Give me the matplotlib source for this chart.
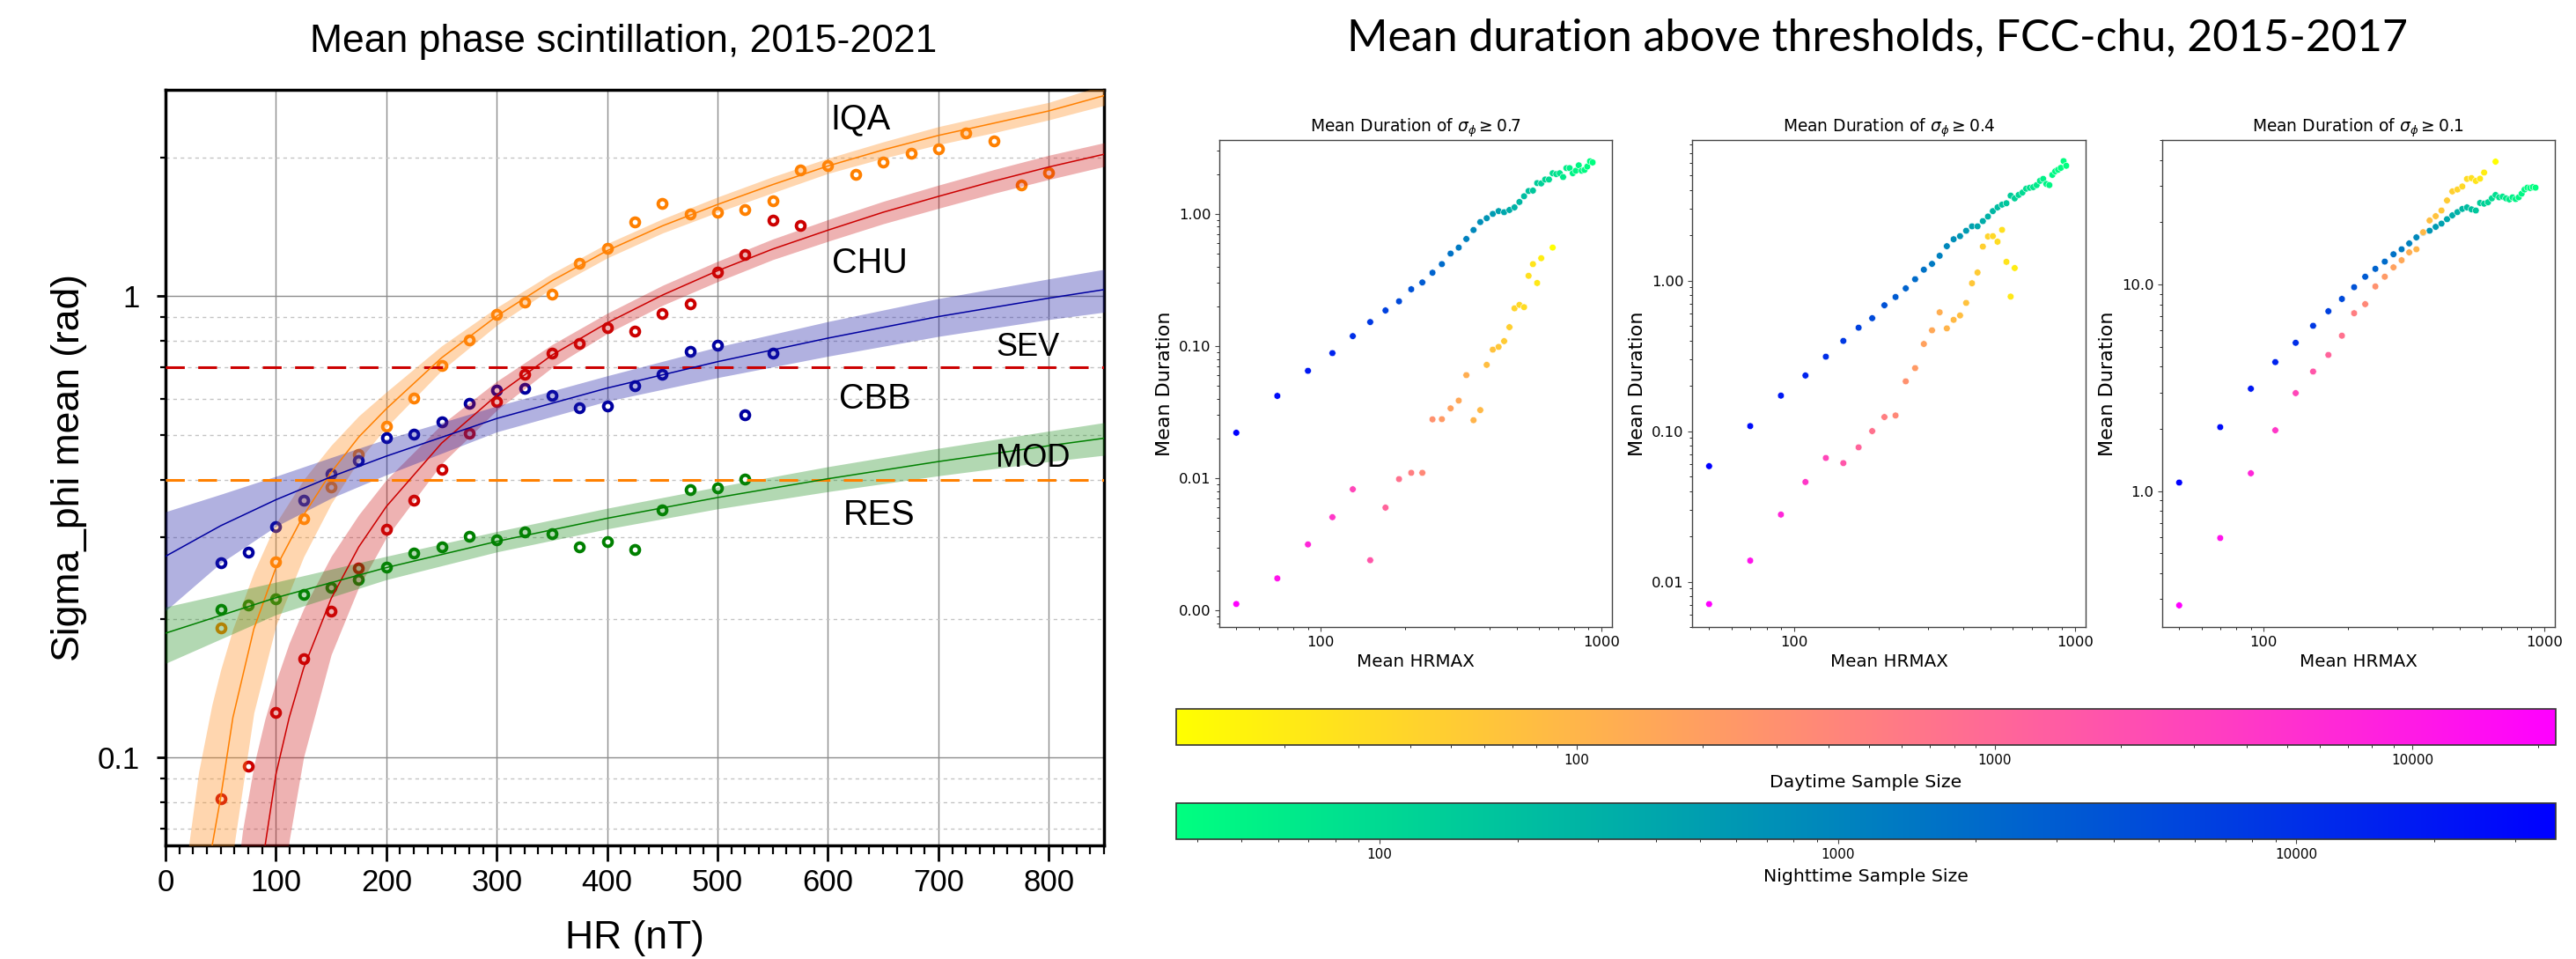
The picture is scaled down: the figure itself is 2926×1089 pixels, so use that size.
import numpy as np
import matplotlib
matplotlib.use('Agg')
import matplotlib.pyplot as plt
from matplotlib import font_manager
from matplotlib.colors import LogNorm
from matplotlib.cm import ScalarMappable
from matplotlib.ticker import (MultipleLocator, NullFormatter,
                               FormatStrFormatter, LogLocator)

nan = np.nan

# ============================================================
#  Left: mean phase scintillation vs HR (binned points + fits)
# ============================================================
hr = [50, 75, 100, 125, 150, 175, 200, 225, 250, 275, 300, 325, 350, 375,
      400, 425, 450, 475, 500, 525, 550, 575, 600, 625, 650, 675, 700, 725,
      750, 775, 800]

iqa_pts = [0.191, nan, 0.266, 0.330, 0.385, 0.453, 0.522, 0.602, 0.708, 0.805,
           0.911, 0.969, 1.01, 1.18, 1.27, 1.45, 1.585, 1.51, 1.52, 1.54,
           1.61, 1.88, 1.92, 1.84, 1.95, 2.04, 2.09, 2.26, 2.17, 1.74, 1.85]
chu_pts = [0.0814, 0.0956, 0.125, 0.164, 0.208, 0.257, 0.312, 0.361, 0.421,
           0.505, 0.590, 0.676, 0.751, 0.791, 0.853, 0.838, 0.915, 0.961,
           1.127, 1.23, 1.46, 1.42]
cbb_pts = [0.264, 0.279, 0.316, 0.361, 0.412, 0.440, 0.493, 0.503, 0.535,
           0.587, 0.627, 0.632, 0.610, 0.573, 0.578, 0.639, 0.676, 0.760,
           0.782, 0.554, 0.753]
res_pts = [0.209, 0.214, 0.221, 0.2256, 0.234, 0.243, 0.259, 0.277, 0.286,
           0.301, 0.296, 0.308, 0.306, 0.286, 0.294, 0.283, 0.344, 0.380,
           0.384, 0.402]

# fitted curves
iqa_fit_x = [42, 50, 61, 80, 100, 125, 150, 175, 200, 250, 300, 350, 400,
             450, 500, 550, 600, 650, 700, 750, 800, 850]
iqa_fit_y = [0.064, 0.082, 0.122, 0.190, 0.258, 0.335, 0.415, 0.495, 0.570,
             0.735, 0.905, 1.08, 1.255, 1.42, 1.58, 1.745, 1.915, 2.075,
             2.23, 2.37, 2.52, 2.72]
iqa_band_x = [20, 30, 42, 50, 61, 80, 100, 125, 150, 175, 200, 250, 300,
              350, 400, 450, 500, 550, 600, 650, 700, 750, 800, 850]
iqa_band_lo = [0.03, 0.03, 0.03, 0.03, 0.062, 0.125, 0.193, 0.272, 0.355,
               0.440, 0.520, 0.690, 0.865, 1.04, 1.21, 1.37, 1.52, 1.675,
               1.845, 1.99, 2.13, 2.26, 2.41, 2.59]
iqa_band_hi = [0.062, 0.093, 0.130, 0.155, 0.190, 0.252, 0.322, 0.400, 0.475,
               0.550, 0.620, 0.780, 0.945, 1.12, 1.30, 1.47, 1.64, 1.815,
               1.99, 2.16, 2.33, 2.48, 2.63, 2.87]

chu_fit_x = [90, 100, 112, 125, 150, 175, 200, 250, 300, 350, 400, 450, 500,
             550, 600, 650, 700, 750, 800, 850]
chu_fit_y = [0.064, 0.092, 0.122, 0.156, 0.221, 0.286, 0.350, 0.480, 0.610,
             0.745, 0.875, 1.005, 1.135, 1.265, 1.39, 1.52, 1.645, 1.775,
             1.905, 2.03]
chu_band_x = [60, 70, 80, 90, 100, 112, 125, 150, 175, 200, 250, 300, 350,
              400, 450, 500, 550, 600, 650, 700, 750, 800, 850]
chu_band_lo = [0.03, 0.03, 0.03, 0.03, 0.034, 0.066, 0.100, 0.167, 0.234,
               0.300, 0.433, 0.566, 0.700, 0.830, 0.955, 1.075, 1.20, 1.315,
               1.435, 1.55, 1.67, 1.79, 1.91]
chu_band_hi = [0.045, 0.070, 0.096, 0.121, 0.146, 0.177, 0.210, 0.273, 0.336,
               0.400, 0.527, 0.654, 0.785, 0.918, 1.055, 1.19, 1.33, 1.465,
               1.605, 1.74, 1.88, 2.02, 2.15]

cbb_fit_x = [0, 50, 100, 150, 200, 300, 400, 500, 600, 700, 800, 850]
cbb_fit_y = [0.273, 0.318, 0.362, 0.406, 0.450, 0.543, 0.632, 0.721, 0.811,
             0.903, 0.990, 1.033]
cbb_band_lo = [0.208, 0.264, 0.317, 0.365, 0.410, 0.508, 0.592, 0.666, 0.741,
               0.818, 0.890, 0.923]
cbb_band_hi = [0.341, 0.372, 0.407, 0.447, 0.490, 0.578, 0.672, 0.776, 0.881,
               0.988, 1.090, 1.143]

res_fit_x = [0, 100, 200, 300, 400, 500, 600, 700, 800, 850]
res_fit_y = [0.186, 0.222, 0.258, 0.294, 0.330, 0.366, 0.402, 0.438, 0.474,
             0.492]
res_band_lo = [0.160, 0.204, 0.243, 0.279, 0.313, 0.346, 0.377, 0.408, 0.438,
               0.452]
res_band_hi = [0.212, 0.240, 0.273, 0.309, 0.347, 0.386, 0.427, 0.468, 0.510,
               0.532]

thr_sev = 0.7
thr_mod = 0.4

# ============================================================
#  Right: mean duration above thresholds (3 panels)
# ============================================================
night_x = [50, 70, 90, 110, 130, 150, 170, 190, 210, 230, 250, 270, 290, 310,
           330, 350, 370, 390, 410, 430, 450, 470, 490, 510, 530, 550, 570,
           590, 610, 630, 650, 670, 690, 710, 730, 750, 770, 790, 810, 830,
           850, 870, 890, 910, 930]
night_n = [36800, 26000, 19000, 14000, 10500, 8000, 6200, 4900, 3900, 3100,
           2500, 2000, 1650, 1350, 1100, 920, 770, 650, 550, 470, 400, 340,
           295, 255, 220, 190, 165, 145, 128, 113, 100, 89, 80, 72, 65, 59,
           54, 50, 47, 45, 43, 41, 39, 37, 36]
day_x = [50, 70, 90, 110, 130, 150, 170, 190, 210, 230, 250, 270, 290, 310,
         330, 350, 370, 390, 410, 430, 450, 470, 490, 510, 530, 550, 570, 590,
         610, 630, 650, 670]
day_n = [22000, 12000, 7000, 4200, 2700, 1700, 1100, 750, 520, 380, 290, 225,
         180, 150, 125, 105, 90, 78, 68, 59, 52, 46, 40, 36, 32, 28, 25, 22,
         19, 16, 13, 11]

night_07 = [0.0221, 0.042, 0.065, 0.0885, 0.119, 0.152, 0.186, 0.218, 0.269,
            0.303, 0.359, 0.417, 0.501, 0.556, 0.646, 0.755, 0.867, 0.928,
            1.0, 1.05, 1.03, 1.07, 1.12, 1.23, 1.36, 1.49, 1.50, 1.71, 1.70,
            1.82, 1.82, 2.03, 2.0, 2.03, 1.90, 2.22, 2.22, 2.03, 2.12, 2.33,
            2.12, 2.15, 2.28, 2.50, 2.45]
day_07 = [0.00112, 0.00175, 0.00316, 0.00508, 0.00826, 0.0024, 0.0060,
          0.00986, 0.0110, 0.0110, 0.0279, 0.0280, 0.0338, 0.0387, 0.0603,
          0.0275, 0.0328, 0.0721, 0.094, 0.0986, 0.109, 0.139, 0.193, 0.205,
          0.197, 0.340, 0.417, 0.30, 0.462, nan, nan, 0.556]

night_04 = [0.0585, 0.108, 0.172, 0.234, 0.312, 0.397, 0.486, 0.562, 0.685,
            0.777, 0.887, 1.02, 1.18, 1.29, 1.46, 1.69, 1.88, 1.97, 2.14,
            2.29, 2.29, 2.48, 2.66, 2.89, 3.06, 3.19, 3.26, 3.66, 3.51, 3.70,
            3.84, 4.07, 4.13, 4.17, 4.30, 4.59, 4.73, 4.38, 4.30, 5.03, 5.31,
            5.44, 5.60, 6.21, 5.78]
day_04 = [0.0071, 0.0138, 0.0279, 0.0459, 0.0663, 0.0613, 0.078, 0.100,
          0.124, 0.127, 0.214, 0.262, 0.379, 0.467, 0.615, 0.481, 0.548,
          0.586, 0.710, 0.959, 1.13, 1.68, 1.96, 1.97, 1.81, 2.17, 1.33,
          0.782, 1.21, nan, nan, nan]

night_01 = [1.10, 2.04, 3.13, 4.21, 5.22, 6.31, 7.42, 8.51, 9.70, 10.9, 11.9,
            12.9, 14.0, 14.8, 15.8, 16.9, 17.8, 18.2, 19.0, 19.7, 20.7, 21.6,
            22.4, 23.2, 23.6, 23.1, 22.8, 24.8, 24.6, 25.0, 26.1, 27.1, 26.4,
            26.6, 26.1, 25.8, 26.4, 25.9, 26.4, 27.5, 28.8, 29.4, 29.3, 29.6,
            29.4]
day_01 = [0.280, 0.593, 1.22, 1.97, 2.98, 3.79, 4.56, 5.65, 7.26, 8.03, 9.78,
          10.9, 12.1, 13.1, 14.3, 14.8, 17.9, 20.4, 21.4, 22.8, 25.5, 28.2,
          28.8, 29.8, 32.4, 32.7, 31.7, 32.5, 34.8, nan, nan, 39.3]

panel_thr = ['0.7', '0.4', '0.1']
panel_ylim = [(0.00075, 3.62), (0.005, 8.57), (0.22, 50)]
panel_yticks = [[0.001, 0.01, 0.1, 1], [0.01, 0.1, 1], [1, 10]]
panel_yfmt = ['%.2f', '%.2f', '%.1f']

day_range = (11, 22000)
night_range = (36, 36800)

# ============================================================
#  Fonts
# ============================================================
_names = {f.name for f in font_manager.fontManager.ttflist}
if 'Liberation Sans Narrow' in _names:
    NARROW, NS = 'Liberation Sans Narrow', 1.0
    plt.rcParams['mathtext.fontset'] = 'custom'
    plt.rcParams['mathtext.rm'] = NARROW
    plt.rcParams['mathtext.it'] = NARROW + ':italic'
else:
    NARROW, NS = 'DejaVu Sans', 0.84
ARIAL = 'Liberation Sans'
plt.rcParams['font.family'] = [NARROW, 'DejaVu Sans']

W, H = 2926, 1089
fig = plt.figure(figsize=(W / 100, H / 100), dpi=100)


def rect(x0, y0, x1, y1):
    return [x0 / W, 1 - y1 / H, (x1 - x0) / W, (y1 - y0) / H]


# ------------------------------------------------------------
#  Left panel
# ------------------------------------------------------------
ax = fig.add_axes(rect(188, 102, 1254, 960))
ax.set_yscale('log')
ax.set_xlim(0, 850)
ax.set_ylim(0.0645, 2.80)
ax.set_axisbelow(True)

ax.set_xticks(range(0, 801, 100))
ax.xaxis.set_minor_locator(MultipleLocator(12.5))
ax.set_yticks([0.1, 1], ['0.1', '1'])
ax.set_yticks([0.07, 0.08, 0.09, 0.2, 0.3, 0.4, 0.5, 0.6, 0.7, 0.8, 0.9, 2.0],
              minor=True)
ax.yaxis.set_minor_formatter(NullFormatter())

ax.grid(which='major', color='#8c8c8c', lw=1.0)
ax.grid(which='minor', axis='y', color='#c4c4c4', lw=1.0, ls=(0, (3, 3)))

ax.tick_params(axis='x', which='major', direction='out', length=13, width=2,
               labelsize=25, pad=6, labelfontfamily=ARIAL)
ax.tick_params(axis='x', which='minor', direction='out', length=7, width=1.6)
ax.tick_params(axis='y', which='major', direction='out', length=7, width=2,
               labelsize=25, pad=14, labelfontfamily=ARIAL)
ax.tick_params(axis='y', which='minor', direction='out', length=4, width=1.6)
for s in ax.spines.values():
    s.set_linewidth(2.5)

stations = [
    (hr[:31], iqa_pts, iqa_fit_x, iqa_fit_y, iqa_band_x, iqa_band_lo,
     iqa_band_hi, '#ff8000', '#ff8c1a', 0.35),
    (hr[:22], chu_pts, chu_fit_x, chu_fit_y, chu_band_x, chu_band_lo,
     chu_band_hi, '#cc0000', '#cc1010', 0.32),
    (hr[:21], cbb_pts, cbb_fit_x, cbb_fit_y, cbb_fit_x, cbb_band_lo,
     cbb_band_hi, '#0000a0', '#2020a8', 0.35),
    (hr[:20], res_pts, res_fit_x, res_fit_y, res_fit_x, res_band_lo,
     res_band_hi, '#008000', '#118811', 0.32),
]
for px, py, fx, fy, bx, blo, bhi, c, bc, a in stations:
    ax.plot(px, py, 'o', ms=7, mfc='white', mec=c, mew=2.8, zorder=3)
    ax.fill_between(bx, blo, bhi, color=bc, alpha=a, lw=0, zorder=4)
    ax.plot(fx, fy, color=c, lw=1.1, zorder=5)

ax.axhline(thr_sev, color='#cc0000', lw=2.2, dashes=(7, 5), zorder=4.5)
ax.axhline(thr_mod, color='#ff8000', lw=2.2, dashes=(7, 5), zorder=4.5)

lab_kw = dict(family=ARIAL, va='center', ha='left', zorder=6)
ax.text(602, 2.42, 'IQA', fontsize=28.5, **lab_kw)
ax.text(604, 1.18, 'CHU', fontsize=28.5, **lab_kw)
ax.text(610, 0.60, 'CBB', fontsize=28.5, **lab_kw)
ax.text(614, 0.335, 'RES', fontsize=28.5, **lab_kw)
ax.text(752, 0.773, 'SEV', fontsize=26, **lab_kw)
ax.text(752, 0.445, 'MOD', fontsize=26, **lab_kw)

fig.text(708 / W, 1 - 48 / H, 'Mean phase scintillation, 2015-2021',
         family=ARIAL, fontsize=32, ha='center', va='center')
fig.text(721 / W, 1 - 1066 / H, 'HR (nT)', family=ARIAL, fontsize=32,
         ha='center', va='center')
fig.text(79 / W, 1 - 531 / H, 'Sigma_phi mean (rad)', family=ARIAL,
         fontsize=32, rotation=90, ha='center', va='center')

# ------------------------------------------------------------
#  Right panels
# ------------------------------------------------------------
fig.text(2133 / W, 1 - 43 / H,
         'Mean duration above thresholds, FCC-chu, 2015-2017',
         family=['Lato', 'DejaVu Sans'], fontsize=36, ha='center',
         va='center')

day_norm = LogNorm(*day_range)
night_norm = LogNorm(*night_range)
day_cmap = plt.get_cmap('spring_r')
night_cmap = plt.get_cmap('winter_r')

panel_rects = [rect(1385, 159, 1831, 712), rect(1922, 159, 2369, 712),
               rect(2456, 159, 2902, 712)]
night_sets = [night_07, night_04, night_01]
day_sets = [day_07, day_04, day_01]

for i in range(3):
    pa = fig.add_axes(panel_rects[i])
    pa.set_xscale('log')
    pa.set_yscale('log')
    pa.scatter(night_x, night_sets[i], c=night_n, cmap=night_cmap,
               norm=night_norm, s=30, edgecolors='white', linewidths=0.4,
               zorder=3)
    pa.scatter(day_x, day_sets[i], c=day_n, cmap=day_cmap, norm=day_norm,
               s=30, edgecolors='white', linewidths=0.4, zorder=3)
    pa.set_xlim(43.5, 1090)
    pa.set_ylim(*panel_ylim[i])
    pa.set_xticks([100, 1000], ['100', '1000'])
    pa.xaxis.set_minor_locator(LogLocator(base=10, subs=np.arange(2, 10)))
    pa.xaxis.set_minor_formatter(NullFormatter())
    pa.set_yticks(panel_yticks[i])
    pa.yaxis.set_major_formatter(FormatStrFormatter(panel_yfmt[i]))
    pa.yaxis.set_minor_locator(LogLocator(base=10, subs=np.arange(2, 10)))
    pa.yaxis.set_minor_formatter(NullFormatter())
    pa.tick_params(labelsize=14 * NS, color='#444444')
    for s in pa.spines.values():
        s.set_linewidth(1.0)
        s.set_color('#444444')
    pa.set_title(r'Mean Duration of $\sigma_\phi \geq %s$' % panel_thr[i],
                 fontsize=16 * NS, pad=7)
    pa.set_xlabel('Mean HRMAX', fontsize=17 * NS)
    pa.set_ylabel('Mean Duration', fontsize=16, family='DejaVu Sans')

# colorbars
for (y0, y1), norm, cmap, label in [
        ((805, 846), day_norm, day_cmap, 'Daytime Sample Size'),
        ((912, 953), night_norm, night_cmap, 'Nighttime Sample Size')]:
    cax = fig.add_axes(rect(1336, y0, 2903, y1))
    cb = fig.colorbar(ScalarMappable(norm=norm, cmap=cmap), cax=cax,
                      orientation='horizontal')
    cb.set_ticks([100, 1000, 10000])
    cb.set_ticklabels(['100', '1000', '10000'])
    cax.xaxis.set_minor_locator(LogLocator(base=10, subs=np.arange(2, 10)))
    cax.xaxis.set_minor_formatter(NullFormatter())
    cax.tick_params(labelsize=13 * NS, color='#444444')
    cb.outline.set_edgecolor('#333333')
    cb.outline.set_linewidth(1.2)
    cb.set_label(label, fontsize=17.5 * NS, labelpad=6)

fig.savefig('out.png', dpi=100)
